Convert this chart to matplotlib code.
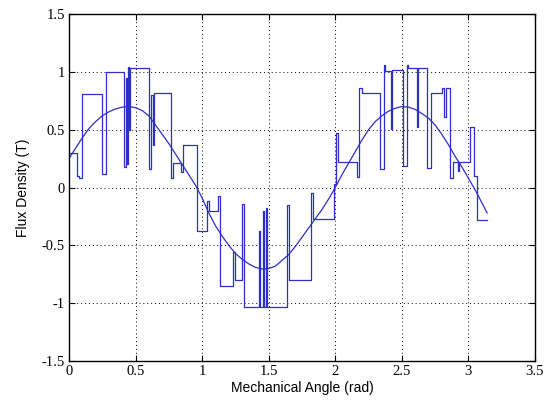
import matplotlib
matplotlib.use("Agg")
import matplotlib.pyplot as plt

# stepped flux waveform: level holds from angle[i] until angle[i+1]
step_angle = [0.000, 0.058, 0.075, 0.095, 0.250, 0.275, 0.415, 0.430, 0.436, 0.442,
              0.450, 0.458, 0.600, 0.615, 0.628, 0.640, 0.765, 0.785, 0.845, 0.855,
              0.960, 1.040, 1.050, 1.120, 1.135, 1.235, 1.245, 1.300, 1.315, 1.425,
              1.435, 1.455, 1.462, 1.480, 1.490, 1.640, 1.655, 1.820, 1.835, 1.990,
              2.005, 2.020, 2.160, 2.180, 2.200, 2.335, 2.365, 2.375, 2.415, 2.425,
              2.505, 2.540, 2.548, 2.615, 2.625, 2.690, 2.720, 2.800, 2.820, 2.828,
              2.865, 2.885, 2.920, 2.930, 3.010, 3.040, 3.065, 3.140]
step_flux = [0.30, 0.10, 0.08, 0.81, 0.12, 1.00, 0.18, 0.95, 0.20, 1.04,
             0.50, 1.03, 0.16, 0.80, 0.37, 0.82, 0.08, 0.21, 0.13, 0.37,
             -0.38, -0.12, -0.20, -0.07, -0.85, -0.56, -0.80, -0.14, -1.03, -0.38,
             -1.03, -0.20, -1.03, -0.18, -1.03, -0.15, -0.80, -0.05, -0.27, 0.03,
             0.47, 0.22, 0.09, 0.86, 0.82, 0.16, 1.06, 1.01, 0.51, 1.02,
             0.19, 1.06, 1.035, 0.52, 1.035, 0.17, 0.82, 0.86, 0.61, 0.86,
             0.08, 0.22, 0.14, 0.22, 0.52, 0.10, -0.28, -0.28]

# smooth fundamental
fund_angle = [0.00, 0.05, 0.10, 0.15, 0.20, 0.25, 0.30, 0.35, 0.40, 0.45,
              0.50, 0.55, 0.60, 0.65, 0.70, 0.75, 0.80, 0.85, 0.90, 0.95,
              1.00, 1.05, 1.10, 1.15, 1.20, 1.25, 1.30, 1.35, 1.40, 1.45,
              1.50, 1.55, 1.60, 1.65, 1.70, 1.75, 1.80, 1.85, 1.90, 1.95,
              2.00, 2.05, 2.10, 2.15, 2.20, 2.25, 2.30, 2.35, 2.40, 2.45,
              2.50, 2.55, 2.60, 2.65, 2.70, 2.75, 2.80, 2.85, 2.90, 2.95,
              3.00, 3.05, 3.10, 3.14]
fund_flux = [0.25, 0.34, 0.43, 0.51, 0.57, 0.62, 0.655, 0.68, 0.695, 0.70,
             0.69, 0.665, 0.62, 0.54, 0.46, 0.38, 0.29, 0.20, 0.11, 0.02,
             -0.09, -0.22, -0.33, -0.42, -0.50, -0.57, -0.62, -0.66, -0.69, -0.705,
             -0.70, -0.68, -0.63, -0.58, -0.51, -0.43, -0.35, -0.27, -0.19, -0.10,
             0.00, 0.11, 0.21, 0.31, 0.41, 0.50, 0.57, 0.62, 0.66, 0.685,
             0.70, 0.695, 0.675, 0.64, 0.60, 0.54, 0.46, 0.37, 0.27, 0.18,
             0.08, -0.02, -0.13, -0.22]

xticks = [0, 0.5, 1, 1.5, 2, 2.5, 3, 3.5]
yticks = [-1.5, -1, -0.5, 0, 0.5, 1, 1.5]

fig = plt.figure(figsize=(5.54, 4.05), dpi=100)
ax = fig.add_axes([0.1245, 0.1086, 0.8412, 0.8568])

blue = '#2e2ec8'
ax.plot(step_angle, step_flux, drawstyle='steps-post', color=blue, lw=0.9)
ax.plot(fund_angle, fund_flux, color=blue, lw=0.9)

ax.set_xlim(0, 3.5)
ax.set_ylim(-1.5, 1.5)
ax.set_xticks(xticks)
ax.set_yticks(yticks)
ax.set_xticklabels([f'{t:g}' for t in xticks], family='Liberation Serif', fontsize=10.5)
ax.set_yticklabels([f'{t:g}' for t in yticks], family='Liberation Serif', fontsize=10.5)
ax.tick_params(direction='in', top=True, right=True, length=4, width=0.8, pad=3)
ax.grid(True, linestyle=(0, (1, 3)), color='black', lw=0.7)
for s in ax.spines.values():
    s.set_linewidth(1.0)

ax.set_xlabel('Mechanical Angle (rad)', family='Liberation Sans', fontsize=10, labelpad=2)
ax.set_ylabel('Flux Density (T)', family='Liberation Sans', fontsize=10, labelpad=8)

plt.savefig('out.png', dpi=100)
